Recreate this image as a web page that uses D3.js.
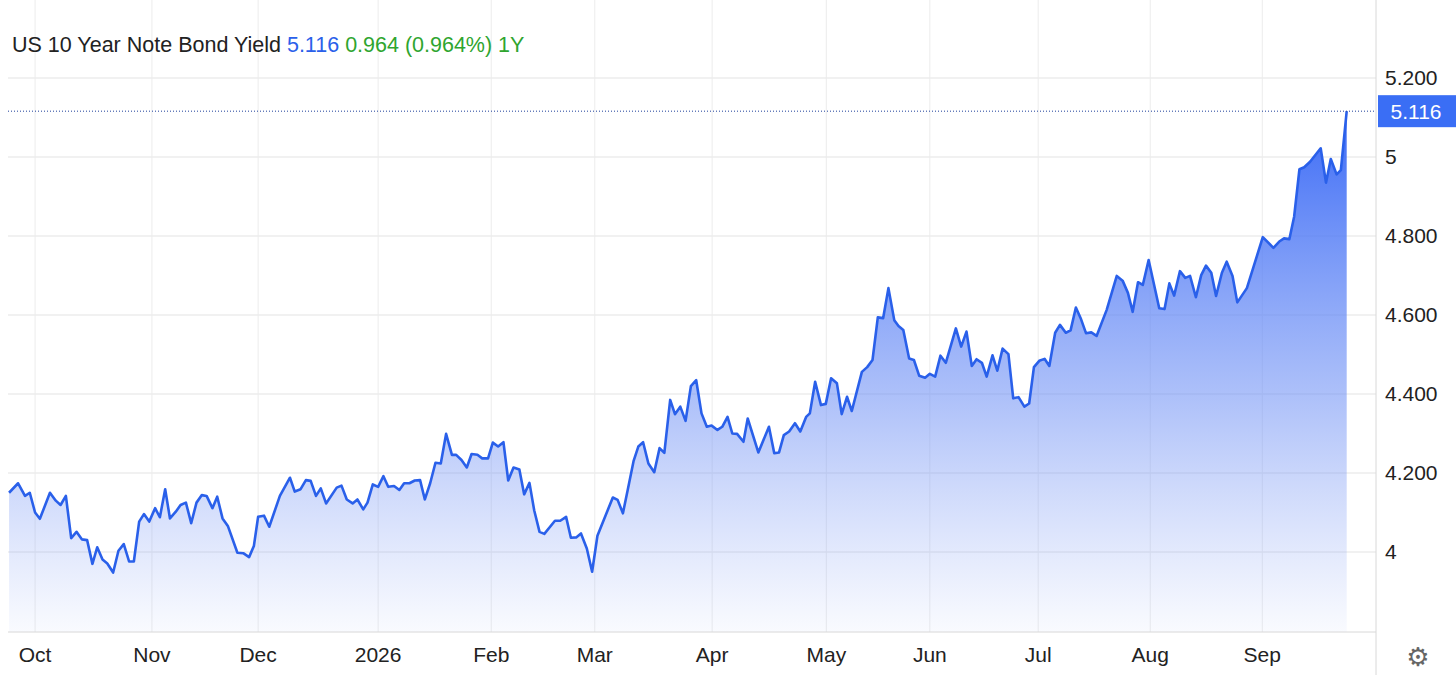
<!DOCTYPE html>
<html>
<head>
<meta charset="utf-8">
<script src="https://cdn.jsdelivr.net/npm/d3@7"></script>
<style>
  body { margin: 0; background: #fff; }
  svg { font-family: "Helvetica Neue", Arial, "Liberation Sans", sans-serif; }
</style>
</head>
<body>
<svg id="chart" width="1456" height="675"></svg>
<script>
// session index (trading days since start) and yield values
var sessions = [0.2,1.9,3.2,4.1,5.1,6.0,7.9,9.0,9.9,10.9,11.9,12.9,13.9,14.9,15.9,16.8,17.8,18.7,19.8,20.8,21.8,22.8,23.7,24.7,25.6,26.6,27.7,28.6,29.6,30.5,31.6,32.5,33.5,34.5,35.5,36.5,37.4,38.5,39.4,40.4,41.4,43.2,44.3,45.4,46.3,47.1,48.2,49.2,51.2,53.1,54.0,55.1,56.1,57.0,58.0,58.9,59.9,61.9,62.8,63.8,64.9,65.8,66.9,67.7,68.7,69.7,70.7,71.6,72.7,73.7,74.6,75.6,76.6,77.6,78.5,79.5,80.5,81.5,82.5,83.6,84.4,85.4,86.4,87.3,88.4,89.3,90.4,91.3,92.3,93.3,94.2,95.2,96.3,97.2,98.2,99.1,100.1,101.0,103.0,104.0,105.1,106.0,107.0,107.9,109.0,110.0,111.0,112.4,113.9,114.8,115.8,116.7,117.8,118.7,119.6,120.6,121.7,122.7,123.6,124.7,125.6,126.6,127.6,128.6,129.6,130.6,131.6,132.5,133.6,134.5,135.5,136.4,137.3,138.5,139.3,141.3,143.3,144.3,145.2,146.1,147.1,148.2,149.2,150.3,151.0,152.0,153.1,154.0,155.0,156.1,157.0,158.0,158.9,160.8,161.8,162.8,163.8,164.8,165.8,166.9,167.7,168.6,169.7,170.6,171.6,172.7,173.6,174.6,175.6,176.6,178.5,179.5,180.5,181.5,182.4,183.4,184.3,185.4,186.3,187.3,188.4,189.3,190.3,191.4,192.3,193.2,194.2,195.2,196.1,197.2,198.1,199.2,200.1,201.1,202.0,203.0,204.0,205.0,206.9,208.8,209.9,210.9,211.8,212.8,213.7,214.8,216.8,217.8,218.7,219.6,220.7,221.7,222.6,223.7,224.7,225.6,226.6,227.5,228.6,229.5,230.6,231.5,233.3,236.3,238.3,239.4,240.3,241.3,242.2,243.2,244.1,245.2,247.2,248.2,249.1,250.2,251.0,252.1];
var yields = [4.150,4.174,4.142,4.150,4.100,4.084,4.150,4.130,4.119,4.142,4.035,4.051,4.032,4.030,3.970,4.012,3.981,3.971,3.948,4.003,4.020,3.976,3.976,4.077,4.096,4.077,4.111,4.088,4.159,4.085,4.102,4.119,4.125,4.073,4.125,4.144,4.142,4.111,4.140,4.085,4.066,3.998,3.997,3.987,4.015,4.089,4.092,4.064,4.142,4.188,4.153,4.159,4.182,4.180,4.142,4.161,4.123,4.163,4.168,4.133,4.123,4.133,4.108,4.125,4.171,4.165,4.192,4.165,4.167,4.157,4.174,4.174,4.181,4.182,4.133,4.174,4.226,4.224,4.299,4.246,4.246,4.233,4.214,4.248,4.246,4.237,4.237,4.277,4.267,4.278,4.181,4.214,4.209,4.146,4.175,4.105,4.051,4.046,4.079,4.079,4.089,4.036,4.037,4.047,4.009,3.950,4.041,4.088,4.138,4.132,4.098,4.157,4.230,4.267,4.278,4.224,4.202,4.263,4.251,4.385,4.349,4.368,4.332,4.420,4.435,4.351,4.317,4.320,4.309,4.317,4.342,4.300,4.299,4.279,4.338,4.252,4.317,4.250,4.252,4.296,4.305,4.326,4.305,4.342,4.351,4.431,4.372,4.375,4.440,4.427,4.349,4.393,4.357,4.456,4.468,4.486,4.594,4.592,4.668,4.587,4.572,4.562,4.490,4.486,4.446,4.441,4.451,4.444,4.497,4.479,4.566,4.520,4.558,4.471,4.488,4.479,4.444,4.498,4.459,4.515,4.501,4.389,4.392,4.368,4.376,4.468,4.484,4.489,4.471,4.555,4.575,4.555,4.561,4.619,4.592,4.554,4.556,4.547,4.613,4.699,4.687,4.656,4.608,4.683,4.676,4.739,4.617,4.615,4.680,4.649,4.711,4.694,4.699,4.645,4.701,4.725,4.707,4.648,4.707,4.735,4.699,4.632,4.668,4.797,4.770,4.786,4.794,4.792,4.849,4.969,4.974,4.988,5.022,4.935,4.995,4.956,4.967,5.116];

var monthTicks = [5.1,27.1,47.1,69.7,91.0,110.5,132.6,154.1,173.6,194.0,215.1,236.2];
var monthLabels = ["Oct","Nov","Dec","2026","Feb","Mar","Apr","May","Jun","Jul","Aug","Sep"];
var yTicks = [4.0,4.2,4.4,4.6,4.8,5.0,5.2];
var yTickLabels = ["4","4.200","4.400","4.600","4.800","5","5.200"];
var lastValue = 5.116;

var data = sessions.map(function (s, i) { return { s: s, v: yields[i] }; });

var svg = d3.select("#chart"),
    left = 8, right = 1376, top = 0, bottom = 632;

var x = d3.scaleLinear().domain([0, 252.1]).range([8, 1346.7]);
var y = d3.scaleLinear().domain([4, 5.2]).range([552, 78]);

var blue = "#2a60ea";

// gradient
var defs = svg.append("defs");
var grad = defs.append("linearGradient").attr("id", "fill")
    .attr("gradientUnits", "userSpaceOnUse")
    .attr("x1", 0).attr("x2", 0).attr("y1", y(5.1)).attr("y2", bottom);
grad.append("stop").attr("offset", 0).attr("stop-color", "#3d6cf6").attr("stop-opacity", 1);
grad.append("stop").attr("offset", 0.55).attr("stop-color", "#6d8ff5").attr("stop-opacity", 0.55);
grad.append("stop").attr("offset", 1).attr("stop-color", "#8aa4f4").attr("stop-opacity", 0.05);

// grid
svg.append("g").selectAll("line").data(yTicks).enter().append("line")
    .attr("x1", left).attr("x2", right)
    .attr("y1", function (d) { return y(d); }).attr("y2", function (d) { return y(d); })
    .attr("stroke", "#e3e3e3");
svg.append("g").selectAll("line").data(monthTicks).enter().append("line")
    .attr("x1", function (d) { return x(d); }).attr("x2", function (d) { return x(d); })
    .attr("y1", top).attr("y2", bottom)
    .attr("stroke", "#ececec");

// area + line
svg.append("path").datum(data)
    .attr("fill", "url(#fill)")
    .attr("d", d3.area().x(function (d) { return x(d.s); }).y0(bottom).y1(function (d) { return y(d.v); }));
svg.append("path").datum(data)
    .attr("fill", "none").attr("stroke", blue).attr("stroke-width", 2.6)
    .attr("stroke-linejoin", "round")
    .attr("d", d3.line().x(function (d) { return x(d.s); }).y(function (d) { return y(d.v); }));

// axis frame
svg.append("line").attr("x1", left).attr("x2", right).attr("y1", bottom).attr("y2", bottom).attr("stroke", "#d8d8d8");
svg.append("line").attr("x1", right).attr("x2", right).attr("y1", top).attr("y2", 675).attr("stroke", "#d8d8d8");

// y labels
svg.append("g").selectAll("text").data(yTicks).enter().append("text")
    .attr("x", 1385).attr("y", function (d) { return y(d) + 7; })
    .attr("font-size", 21).attr("fill", "#222")
    .text(function (d, i) { return yTickLabels[i]; });

// x labels
svg.append("g").selectAll("text").data(monthTicks).enter().append("text")
    .attr("x", function (d) { return x(d); }).attr("y", 662)
    .attr("text-anchor", "middle").attr("font-size", 21).attr("fill", "#222")
    .text(function (d, i) { return monthLabels[i]; });

// last value marker
svg.append("line").attr("x1", left).attr("x2", right)
    .attr("y1", y(lastValue)).attr("y2", y(lastValue))
    .attr("stroke", "#1d3f9a").attr("stroke-width", 1).attr("stroke-dasharray", "1,2");
svg.append("rect").attr("x", right + 2).attr("y", y(lastValue) - 16).attr("width", 80).attr("height", 32)
    .attr("fill", "#3a6ef5");
svg.append("text").attr("x", 1416).attr("y", y(lastValue) + 8).attr("text-anchor", "middle")
    .attr("font-size", 21).attr("fill", "#fff").text(lastValue.toFixed(3));

// title
var title = svg.append("text").attr("x", 12).attr("y", 52).attr("font-size", 21.5);
title.append("tspan").attr("fill", "#222").text("US 10 Year Note Bond Yield ");
title.append("tspan").attr("fill", "#2a60ea").text(lastValue.toFixed(3) + " ");
title.append("tspan").attr("fill", "#2fa52f").text("0.964 (0.964%) 1Y");

// settings gear
svg.append("text").attr("x", 1418).attr("y", 666).attr("text-anchor", "middle")
    .attr("font-family", "DejaVu Sans").attr("font-size", 26).attr("fill", "#666").text("\u2699");
</script>
</body>
</html>
